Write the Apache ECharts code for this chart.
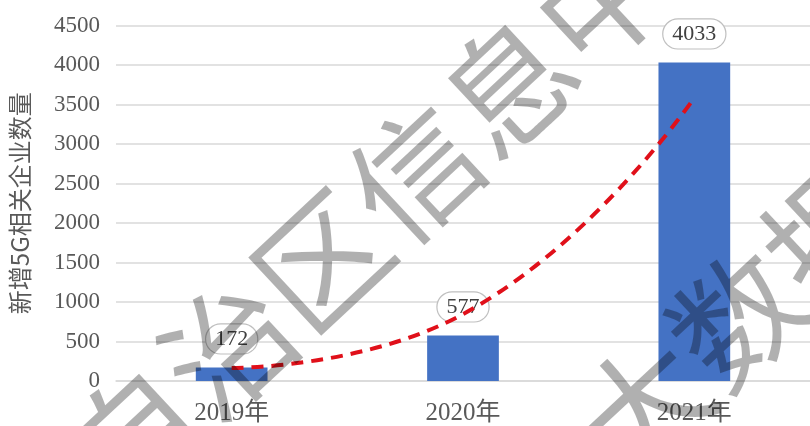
<!DOCTYPE html>
<html>
<head>
<meta charset="utf-8">
<script src="https://cdn.jsdelivr.net/npm/echarts@6/dist/echarts.min.js"></script>
<style>html,body{margin:0;padding:0;background:#fff;}#main{width:810px;height:426px;}</style>
</head>
<body>
<div id="main"></div>
<script>
const categories = ['2019年', '2020年', '2021年'];
const newCompanies = [172, 577, 4033];
const trendValues = [164, 846, 3586];
const yTicks = { min: 0, max: 4500, interval: 500 };
const yAxisName = '新增5G相关企业数量';
const watermarkLine1 = '自治区信息中心';
const watermarkLine2 = '大数据';

const serif = '"Liberation Serif", "Noto Sans CJK SC", serif';
const chart = echarts.init(document.getElementById('main'), null, { renderer: 'canvas' });
const rot = 43 * Math.PI / 180;
chart.setOption({
  animation: false,
  backgroundColor: '#ffffff',
  grid: { left: 116, top: 25.5, width: 701, bottom: 44, containLabel: false },
  xAxis: {
    type: 'category',
    data: categories,
    axisLine: { show: true, lineStyle: { color: '#d9d9d9', width: 1.5 } },
    axisTick: { show: false },
    axisLabel: { color: '#595959', fontSize: 25, fontFamily: serif, margin: 20 }
  },
  yAxis: {
    type: 'value',
    min: yTicks.min, max: yTicks.max, interval: yTicks.interval,
    name: yAxisName,
    nameLocation: 'middle',
    nameGap: 84,
    nameTextStyle: { color: '#595959', fontSize: 24, fontFamily: '"Noto Sans CJK SC", sans-serif' },
    axisLine: { show: false },
    axisTick: { show: false },
    axisLabel: { color: '#595959', fontSize: 23, fontFamily: serif, margin: 16, formatter: v => String(v) },
    splitLine: { lineStyle: { color: '#d9d9d9', width: 1.5 } }
  },
  series: [
    {
      type: 'bar',
      data: newCompanies,
      barWidth: '31%',
      itemStyle: { color: '#4472c4' },
      z: 2,
      label: {
        show: true,
        position: 'top',
        distance: 14,
        color: '#404040',
        fontSize: 22,
        fontFamily: serif,
        lineHeight: 22,
        backgroundColor: '#ffffff',
        borderColor: '#bfbfbf',
        borderWidth: 1.2,
        borderRadius: 26,
        padding: [4, 9, 3, 9]
      }
    },
    {
      type: 'line',
      data: trendValues,
      smooth: true,
      symbol: 'none',
      z: 5,
      lineStyle: { color: '#e0101a', width: 4, type: [12, 8] }
    }
  ],
  graphic: [
    {
      type: 'text', x: 415, y: 173, rotation: rot, z: 100,
      style: {
        text: watermarkLine1, fontSize: 128,
        fontFamily: '"Noto Sans CJK SC", sans-serif',
        fill: 'rgba(0,0,0,0.31)', align: 'center', verticalAlign: 'middle'
      }
    },
    {
      type: 'text', x: 737, y: 318, rotation: rot, z: 100,
      style: {
        text: watermarkLine2, fontSize: 128,
        fontFamily: '"Noto Sans CJK SC", sans-serif',
        fill: 'rgba(0,0,0,0.31)', align: 'center', verticalAlign: 'middle'
      }
    }
  ]
});
</script>
</body>
</html>
